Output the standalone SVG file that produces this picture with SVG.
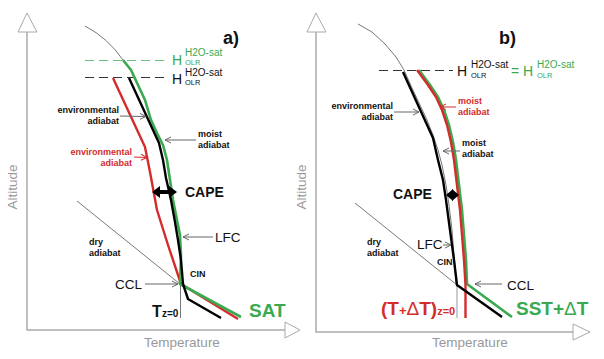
<svg xmlns="http://www.w3.org/2000/svg" width="604" height="359" viewBox="0 0 604 359">
<defs>
<style>
text{font-family:"Liberation Sans",Arial,sans-serif}
.axis{fill:none;stroke:#aaa;stroke-width:1.5}
.tri{fill:#fff;stroke:#aaa;stroke-width:1}
.axl{fill:#999;font-size:13.5px}
.thin{fill:none;stroke:#777;stroke-width:1}
.blk{fill:none;stroke:#000;stroke-width:2.4;stroke-linejoin:round}
.red{fill:none;stroke:#d42b2b;stroke-width:2.4;stroke-linejoin:round}
.grn{fill:none;stroke:#3aaa50;stroke-width:2.6;stroke-linejoin:round}
.lbl{font-size:9px;font-weight:bold;fill:#111}
.rlbl{font-size:9px;font-weight:bold;fill:#d42b2b}
.ptr{fill:none;stroke:#666;stroke-width:1;marker-end:url(#ah)}
.rptr{fill:none;stroke:#d42b2b;stroke-width:1;marker-end:url(#rah)}
.big{font-size:13.5px;fill:#111}
</style>
<marker id="ah" viewBox="0 0 8 8" refX="7" refY="4" markerWidth="8" markerHeight="8" orient="auto" markerUnits="userSpaceOnUse"><path d="M1,1 L7,4 L1,7" fill="none" stroke="#666" stroke-width="1"/></marker>
<marker id="rah" viewBox="0 0 8 8" refX="7" refY="4" markerWidth="8" markerHeight="8" orient="auto" markerUnits="userSpaceOnUse"><path d="M1,1 L7,4 L1,7" fill="none" stroke="#d42b2b" stroke-width="1"/></marker>
</defs>
<rect width="604" height="359" fill="#fff"/>

<!-- Panel a axes -->
<g id="axes-a">
<polyline class="axis" points="27,31 27,330 286,330"/>
<polygon class="tri" points="27,13 18,32 37,32"/>
<polygon class="tri" points="300,330 285,322 285,338"/>
<text class="axl" transform="translate(17,187) rotate(-90)" text-anchor="middle">Altitude</text>
<text class="axl" x="182" y="347" text-anchor="middle">Temperature</text>
<text x="223" y="44" font-size="18" font-weight="bold" fill="#111">a)</text>
</g>

<!-- Panel b axes -->
<g id="axes-b">
<polyline class="axis" points="316,31 316,332 573,332"/>
<polygon class="tri" points="316,13 307,32 326,32"/>
<polygon class="tri" points="590,332 573,324 573,340"/>
<text class="axl" transform="translate(306,187) rotate(-90)" text-anchor="middle">Altitude</text>
<text class="axl" x="470" y="347" text-anchor="middle">Temperature</text>
<text x="499" y="44" font-size="18" font-weight="bold" fill="#111">b)</text>
</g>

<!-- Connectors / curves -->
<g id="connectors">
<!-- panel a -->
<line x1="85" y1="60.5" x2="166" y2="60.5" stroke="#6cbf7a" stroke-width="1" stroke-dasharray="9,5"/>
<line x1="85" y1="77.5" x2="166" y2="77.5" stroke="#333" stroke-width="1" stroke-dasharray="9,5"/>
<path class="thin" d="M85,26 Q108,38 123,60"/>
<line x1="77" y1="201" x2="180" y2="284" stroke="#555" stroke-width="0.8"/>
<line x1="180.5" y1="270" x2="180.5" y2="318" stroke="#555" stroke-width="0.8"/>
<polyline class="red" points="113,78 145,147 150,172 157,210 168,245 181,284 238,319"/>
<polyline class="grn" points="123,60 131,70 138,85 145,100 151,120 157,133 163,145 167,160 170,180 173,200 177,220 180,235 181,255 180,284 241,317"/>
<polyline class="blk" points="129,78 159,143 163,160 166,178 171,200 175,222 178,240 181,260 183,284 188,299 221,318"/>
<!-- CAPE arrow a -->
<line x1="158" y1="192" x2="171" y2="192" stroke="#000" stroke-width="4"/>
<polygon points="152,192 160,186 160,198" fill="#000"/>
<polygon points="177,192 169,186 169,198" fill="#000"/>
<!-- pointer arrows a -->
<line class="ptr" x1="120" y1="116" x2="146" y2="116.5"/>
<line class="rptr" x1="134" y1="157" x2="147" y2="157.5"/>
<line class="ptr" x1="196" y1="140" x2="165" y2="140"/>
<line class="ptr" x1="213" y1="237" x2="183" y2="237"/>
<line class="ptr" x1="145" y1="284" x2="178" y2="284"/>

<!-- panel b -->
<line x1="379" y1="70.5" x2="453" y2="70.5" stroke="#333" stroke-width="1" stroke-dasharray="9,5"/>
<polyline class="thin" points="358,24 372,32 385,44 396,57 404,70 412,88 420,105 427,120 433,135 438,150 442,165 446,185 449,205 452,230 454,255 456,283"/>
<line x1="355" y1="203" x2="457" y2="285" stroke="#555" stroke-width="0.8"/>
<line x1="457" y1="283" x2="457" y2="318" stroke="#999" stroke-width="1"/>
<polyline class="grn" points="419,70 430,85 438,97 444,110 449,125 453,142 456,160 459,185 462,210 464,235 466,260 467,284 512,317"/>
<polyline class="red" points="417,70 428,85 436,97 442,110 447,125 451,142 454,160 457,185 460,210 462,235 464,260 465.5,285 465.5,318"/>
<polyline class="blk" points="403,72 433,138 438,160 443,180 446,200 450,230 454,260 457,285 502,317"/>
<!-- CAPE arrow b -->
<polygon points="446,195 453,189 453,201" fill="#000"/>
<polygon points="459,195 452,189 452,201" fill="#000"/>
<!-- pointer arrows b -->
<line class="ptr" x1="394" y1="112" x2="419" y2="112"/>
<line class="rptr" x1="456" y1="107" x2="440" y2="107"/>
<line class="ptr" x1="460" y1="151" x2="443" y2="151"/>
<line class="ptr" x1="443" y1="245" x2="451" y2="245"/>
<line class="ptr" x1="502" y1="284" x2="475" y2="284"/>
</g>

<!-- Labels panel a -->
<g id="label-Hgreen-a" fill="#3aaa50">
<text x="172" y="65" font-size="14">H</text>
<text x="185" y="56" font-size="10">H2O-sat</text>
<text x="185" y="65" font-size="7.5">OLR</text>
</g>
<g id="label-Hblack-a" fill="#111">
<text x="172" y="84" font-size="14">H</text>
<text x="185" y="76" font-size="10">H2O-sat</text>
<text x="185" y="85" font-size="7.5">OLR</text>
</g>
<g id="env-adiabat-a">
<text class="lbl" x="119" y="113" text-anchor="end">environmental</text>
<text class="lbl" x="119" y="124" text-anchor="end">adiabat</text>
</g>
<g id="moist-adiabat-a">
<text class="lbl" x="198" y="137">moist</text>
<text class="lbl" x="198" y="148">adiabat</text>
</g>
<g id="env-adiabat-red-a">
<text class="rlbl" x="132" y="155" text-anchor="end">environmental</text>
<text class="rlbl" x="132" y="166" text-anchor="end">adiabat</text>
</g>
<g id="cape-a"><text x="185" y="197" font-size="14" font-weight="bold" fill="#111">CAPE</text></g>
<g id="lfc-a"><text class="big" x="215" y="242">LFC</text></g>
<g id="dry-a">
<text class="lbl" x="89" y="245">dry</text>
<text class="lbl" x="89" y="256">adiabat</text>
</g>
<g id="cin-a"><text class="lbl" x="190" y="277">CIN</text></g>
<g id="ccl-a"><text class="big" x="115" y="289">CCL</text></g>
<g id="tz0-a" fill="#111" font-weight="bold">
<text x="152" y="317" font-size="16">T</text>
<text x="162" y="317" font-size="10">z=0</text>
</g>
<g id="sat-a"><text x="249" y="317" font-size="19" font-weight="bold" fill="#3aaa50">SAT</text></g>

<!-- Labels panel b -->
<g id="label-H-b">
<text x="457" y="76" font-size="14" fill="#111">H</text>
<text x="471" y="68" font-size="10" fill="#111">H2O-sat</text>
<text x="471" y="78" font-size="7.5" fill="#111">OLR</text>
<text x="511" y="76" font-size="14" fill="#3aaa50">= H</text>
<text x="537" y="68" font-size="10" fill="#3aaa50">H2O-sat</text>
<text x="537" y="78" font-size="7.5" fill="#3aaa50">OLR</text>
</g>
<g id="env-adiabat-b">
<text class="lbl" x="393" y="109" text-anchor="end">environmental</text>
<text class="lbl" x="393" y="120" text-anchor="end">adiabat</text>
</g>
<g id="moist-adiabat-red-b">
<text class="rlbl" x="458" y="104">moist</text>
<text class="rlbl" x="458" y="115">adiabat</text>
</g>
<g id="moist-adiabat-b">
<text class="lbl" x="462" y="146">moist</text>
<text class="lbl" x="462" y="157">adiabat</text>
</g>
<g id="cape-b"><text x="393" y="199" font-size="14" font-weight="bold" fill="#111">CAPE</text></g>
<g id="lfc-b"><text class="big" x="417" y="249">LFC</text></g>
<g id="dry-b">
<text class="lbl" x="367" y="245">dry</text>
<text class="lbl" x="367" y="256">adiabat</text>
</g>
<g id="cin-b"><text class="lbl" x="437" y="265">CIN</text></g>
<g id="ccl-b"><text class="big" x="507" y="290">CCL</text></g>
<g id="tdt-b" fill="#d42b2b">
<text x="381" y="315" font-weight="bold" font-size="19">(T<tspan font-size="13">+</tspan><tspan font-weight="normal">Δ</tspan>T)<tspan font-size="11" dy="0">z=0</tspan></text>
</g>
<g id="sst-b"><text x="516" y="315" font-size="19" font-weight="bold" fill="#3aaa50">SST+<tspan font-weight="normal">Δ</tspan>T</text></g>
</svg>
